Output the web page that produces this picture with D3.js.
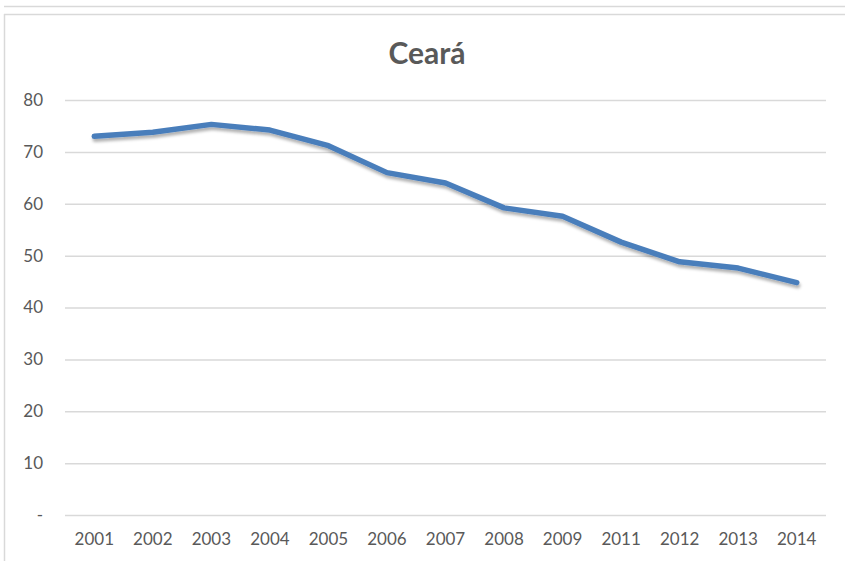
<!DOCTYPE html>
<html>
<head>
<meta charset="utf-8">
<script src="https://cdn.jsdelivr.net/npm/d3@7"></script>
<style>
  html, body { margin: 0; padding: 0; background: #fff; }
  svg { display: block; }
  text { font-family: Lato, "Open Sans", sans-serif; fill: #595959; }
</style>
</head>
<body>
<svg id="chart"></svg>
<script>
// Ceará – Linie 2001–2014 (2010 fehlt in der Quelle)
const width = 845, height = 561;
const margin = { top: 100, right: 19, bottom: 46, left: 65 };
const innerWidth  = width  - margin.left - margin.right;
const innerHeight = height - margin.top  - margin.bottom;

const title = "Ceará";
const years  = ["2001", "2002", "2003", "2004", "2005", "2006", "2007",
                "2008", "2009", "2011", "2012", "2013", "2014"];
const values = [73.0, 73.8, 75.3, 74.2, 71.2, 66.0, 64.0,
                59.2, 57.6, 52.6, 48.8, 47.6, 44.8];
const yTicks = [0, 10, 20, 30, 40, 50, 60, 70, 80];

const data = years.map((year, i) => ({ year, value: values[i] }));

const svg = d3.select("#chart")
  .attr("width", width)
  .attr("height", height)
  .attr("viewBox", `0 0 ${width} ${height}`);

// Rahmen (Reste der Zelle / Diagrammfläche)
svg.append("line").attr("x1", 4).attr("x2", width).attr("y1", 6.5).attr("y2", 6.5)
  .attr("stroke", "#d9d9d9").attr("stroke-width", 1.5);
svg.append("line").attr("x1", 4).attr("x2", width).attr("y1", 14.5).attr("y2", 14.5)
  .attr("stroke", "#d9d9d9").attr("stroke-width", 1.5);
svg.append("line").attr("x1", 4.5).attr("x2", 4.5).attr("y1", 14).attr("y2", height)
  .attr("stroke", "#d9d9d9").attr("stroke-width", 1.5);

const defs = svg.append("defs");
const shadow = defs.append("filter").attr("id", "shadow")
  .attr("x", "-5%").attr("y", "-20%").attr("width", "110%").attr("height", "140%");
shadow.append("feDropShadow")
  .attr("dx", 1).attr("dy", 3).attr("stdDeviation", 1.6)
  .attr("flood-color", "#000").attr("flood-opacity", 0.3);

const g = svg.append("g")
  .attr("transform", `translate(${margin.left},${margin.top})`);

const x = d3.scaleBand()
  .domain(years)
  .range([0, innerWidth]);

const y = d3.scaleLinear()
  .domain([0, 80])
  .range([innerHeight, 0]);

// Gitterlinien + y-Achse
const yAxis = g.append("g")
  .call(d3.axisLeft(y)
    .tickValues(yTicks)
    .tickSize(-innerWidth)
    .tickPadding(22)
    .tickFormat(d => d === 0 ? "-" : d));
yAxis.select(".domain").remove();
yAxis.selectAll(".tick line").attr("stroke", "#d9d9d9").attr("stroke-width", 1.5);
yAxis.selectAll(".tick text")
  .attr("font-size", 17)
  .attr("font-family", null);

// x-Achse
const xAxis = g.append("g")
  .attr("transform", `translate(0,${innerHeight})`)
  .call(d3.axisBottom(x).tickSize(0).tickPadding(18));
xAxis.select(".domain").remove();
xAxis.selectAll(".tick text")
  .attr("font-size", 17)
  .attr("font-family", null);

// Linie
const line = d3.line()
  .x(d => x(d.year) + x.bandwidth() / 2)
  .y(d => y(d.value));

g.append("path")
  .datum(data)
  .attr("d", line)
  .attr("fill", "none")
  .attr("stroke", "#4a7ebb")
  .attr("stroke-width", 5.5)
  .attr("stroke-linecap", "round")
  .attr("stroke-linejoin", "round")
  .attr("filter", "url(#shadow)");

// Titel
svg.append("text")
  .attr("x", 427)
  .attr("y", 64)
  .attr("text-anchor", "middle")
  .attr("font-size", 30)
  .attr("font-weight", "bold")
  .text(title);
</script>
</body>
</html>
